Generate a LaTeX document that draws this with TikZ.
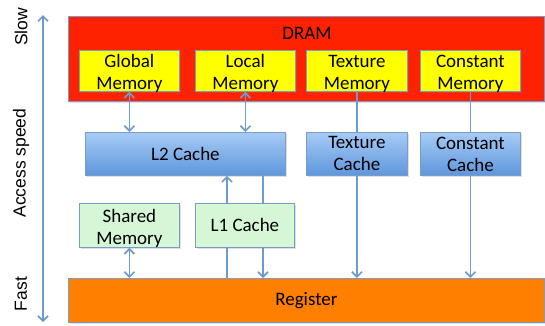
\documentclass[tikz,border=0pt]{standalone}
\usepackage{fontspec}
\setmainfont{Carlito}
\newfontfamily\axisfont{Liberation Sans}
\usetikzlibrary{arrows.meta,shadows}

\definecolor{linkblue}{HTML}{6E9BCD}
\definecolor{edgeblue}{HTML}{7A9CC8}
\definecolor{dramred}{HTML}{FF2200}
\definecolor{memyellow}{HTML}{FFFF00}
\definecolor{cachetop}{HTML}{A6CBF5}
\definecolor{cachebot}{HTML}{5E96DC}
\definecolor{onchip}{HTML}{D6F7D6}
\definecolor{regorange}{HTML}{FF7F00}

\tikzset{
  boxfont/.style={font=\fontsize{19}{22}\selectfont},
  box/.style={draw=edgeblue, line width=0.8pt, anchor=north west, inner sep=0pt,
    align=center, boxfont,
    drop shadow={shadow xshift=1.2pt, shadow yshift=-1.2pt, opacity=0.25}},
  lowtext/.style={label={[boxfont, align=center, inner sep=0pt, yshift=-3pt]center:{#1}}},
  membox/.style={box, fill=memyellow},
  cachebox/.style={box, top color=cachetop, bottom color=cachebot},
  chipbox/.style={box, fill=onchip},
  link/.style={draw=linkblue, line width=1.8pt},
  tip/.style={-{Straight Barb[length=5pt,width=10pt,line width=1.7pt]}},
  bothtips/.style={{Straight Barb[length=5pt,width=10pt,line width=1.7pt]}-{Straight Barb[length=5pt,width=10pt,line width=1.7pt]}},
  axislabel/.style={rotate=90, font=\axisfont\fontsize{17.5}{20}\selectfont}
}

\begin{document}
\begin{tikzpicture}[x=1pt,y=-1pt]
\useasboundingbox (0,0) rectangle (545,325);

% memory hierarchy blocks
\node[box, fill=dramred, minimum width=476pt, minimum height=85pt] (dram) at (68,16) {};
\node[boxfont] (dramlabel) at (307,33) {DRAM};
\node[membox, lowtext={Global\\Memory}, minimum width=100pt, minimum height=41pt] (gmem) at (79,50) {};
\node[membox, lowtext={Local\\Memory}, minimum width=100pt, minimum height=41pt] (lmem) at (195,50) {};
\node[membox, lowtext={Texture\\Memory}, minimum width=101pt, minimum height=41pt] (tmem) at (306,50) {};
\node[membox, lowtext={Constant\\Memory}, minimum width=100pt, minimum height=41pt] (cmem) at (420,50) {};

\node[cachebox, minimum width=200pt, minimum height=43pt] (l2) at (85,132) {L2 Cache};
\node[cachebox, minimum width=101pt, minimum height=43pt] (tcache) at (306,132) {Texture\\Cache};
\node[cachebox, minimum width=100pt, minimum height=43pt] (ccache) at (420,132) {Constant\\Cache};

\node[box, fill=regorange, minimum width=476pt, minimum height=44pt] (reg) at (68,278) {Register};

% L1 links run behind the L1 box
\coordinate (l1up) at (227,0);
\coordinate (l1down) at (263,0);
\draw[link, tip] (l1up |- reg.north) -- (l1up |- l2.south);
\draw[link, tip] (l1down |- l2.south) -- (l1down |- reg.north);

\node[chipbox, lowtext={Shared\\Memory}, minimum width=100pt, minimum height=44pt] (smem) at (79,203) {};
\node[chipbox, minimum width=99pt, minimum height=44pt] (l1) at (195,203) {L1 Cache};

% connectors
\draw[link, bothtips] (gmem.south) -- (gmem.south |- l2.north);
\draw[link, bothtips] (lmem.south) -- (lmem.south |- l2.north);
\draw[link] (tmem.south) -- (tcache.north);
\draw[link] (cmem.south) -- (ccache.north);
\draw[link, tip] (tcache.south) -- (tcache.south |- reg.north);
\draw[link, tip] (ccache.south) -- (ccache.south |- reg.north);
\draw[link, bothtips] (smem.south) -- (smem.south |- reg.north);

% access speed axis
\coordinate (axtop) at (43,15);
\coordinate (axbot) at (43,322);
\draw[link, bothtips] (axbot) -- (axtop);
\node[axislabel] (slow) at (21,27) {Slow};
\node[axislabel] (speed) at (21,163) {Access speed};
\node[axislabel] (fast) at (21,294) {Fast};
\end{tikzpicture}
\end{document}
